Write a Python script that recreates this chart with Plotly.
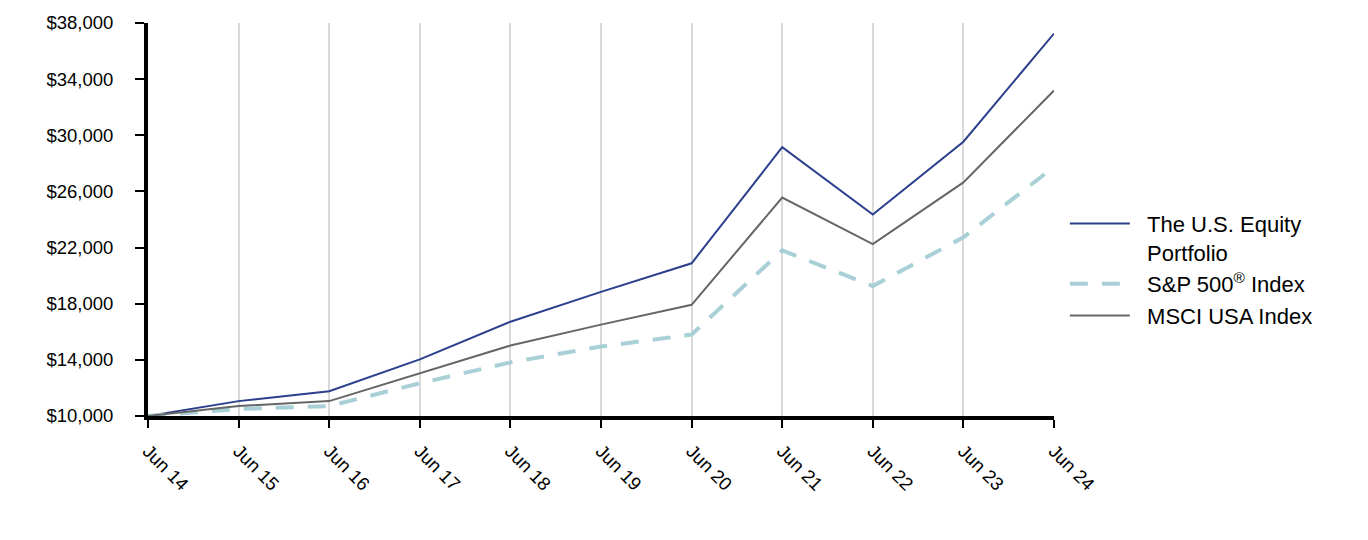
import plotly.graph_objects as go

categories = ["Jun 14", "Jun 15", "Jun 16", "Jun 17", "Jun 18", "Jun 19",
              "Jun 20", "Jun 21", "Jun 22", "Jun 23", "Jun 24"]
portfolio = [10000, 11060, 11770, 14030, 16720, 18840, 20880, 29150, 24350, 29540, 37250]
sp500 = [10000, 10500, 10710, 12330, 13820, 14950, 15800, 21800, 19260, 22730, 27750]
msci = [10000, 10710, 11060, 13040, 15020, 16510, 17920, 25560, 22250, 26640, 33190]
y_ticks = [10000, 14000, 18000, 22000, 26000, 30000, 34000, 38000]
y_labels = ["$10,000", "$14,000", "$18,000", "$22,000", "$26,000", "$30,000", "$34,000", "$38,000"]
names = ["The U.S. Equity<br>Portfolio", "S&P 500<sup>®</sup> Index", "MSCI USA Index"]

xs = list(range(len(categories)))
pad = "\u00a0\u00a0"

def legend_name(n):
    return "<br>".join(pad + part for part in n.split("<br>"))

fig = go.Figure()
fig.add_trace(go.Scatter(x=xs, y=portfolio, mode="lines", name=legend_name(names[0]),
                         line=dict(color="#2b3f8c", width=2)))
fig.add_trace(go.Scatter(x=xs, y=sp500, mode="lines", name=legend_name(names[1]),
                         line=dict(color="#a8d0d6", width=4, dash="18px,14px")))
fig.add_trace(go.Scatter(x=xs, y=msci, mode="lines", name=legend_name(names[2]),
                         line=dict(color="#666666", width=2)))

fig.update_layout(
    width=1368, height=540,
    margin=dict(l=148, r=314, t=20, b=124),
    paper_bgcolor="white", plot_bgcolor="white",
    font=dict(family="Liberation Sans, Arial, sans-serif", size=18.5, color="#000000"),
    showlegend=True,
    legend=dict(x=1.012, y=0.372, xanchor="left", yanchor="middle", valign="top",
                font=dict(size=22), itemwidth=60),
    xaxis=dict(range=[0, 10], tickvals=xs, ticktext=categories, tickangle=45,
               showgrid=True, gridcolor="#d9d9d9", gridwidth=2,
               showline=True, linecolor="black", linewidth=4,
               ticks="outside", ticklen=8, tickwidth=2, tickcolor="black",
               ticklabelstandoff=5,
               zeroline=False, tickfont=dict(size=18.5)),
    yaxis=dict(range=[10000, 38000], tickvals=y_ticks, ticktext=y_labels,
               showgrid=False, showline=True, linecolor="black", linewidth=4,
               ticks="outside", ticklen=9, tickwidth=2, tickcolor="black",
               ticklabelstandoff=18,
               zeroline=False, tickfont=dict(size=18.5)),
)

fig.write_html("out.html")
